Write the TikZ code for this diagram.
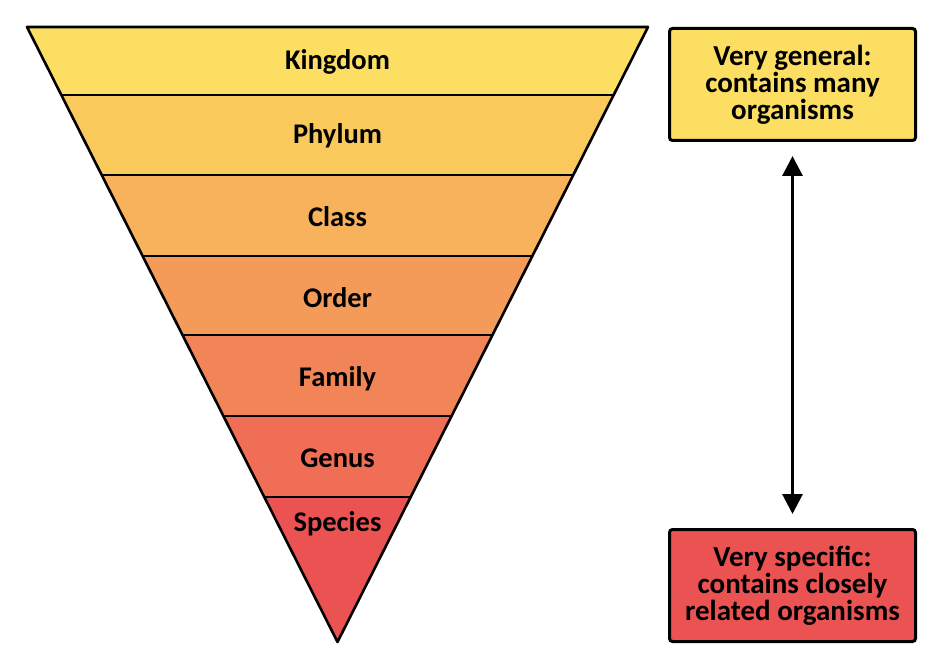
\documentclass[tikz,border=0pt]{standalone}
\usepackage{fontspec}
\setmainfont{Carlito}
\usetikzlibrary{calc,arrows.meta}
\definecolor{cK}{RGB}{252,222,99}
\definecolor{cP}{RGB}{249,201,92}
\definecolor{cC}{RGB}{247,178,91}
\definecolor{cO}{RGB}{245,155,90}
\definecolor{cF}{RGB}{242,133,88}
\definecolor{cG}{RGB}{239,110,85}
\definecolor{cS}{RGB}{235,83,82}
\tikzset{
  lbl/.style={font=\fontsize{28.5}{28}\selectfont\bfseries, text=black, inner sep=0pt},
  infobox/.style={draw=black, line width=3pt, rounded corners=3pt, minimum width=246pt, minimum height=112pt, align=center, font=\fontsize{29}{27}\selectfont\bfseries, inner sep=0pt},
  edge/.style={line width=2.6pt, line join=round}
}
\begin{document}
\begin{tikzpicture}[x=1pt,y=-1pt]
\useasboundingbox (0,0) rectangle (945,671);
\coordinate (TL) at (27,27);
\coordinate (TR) at (648,27);
\coordinate (A) at (337.5,642);
% band boundary points
\foreach \n/\t in {1/0.1106,2/0.2407,3/0.3724,4/0.5008,5/0.6325,6/0.7642}{
  \coordinate (L\n) at ($(TL)!\t!(A)$);
  \coordinate (R\n) at ($(TR)!\t!(A)$);
}
\fill[cK] (TL) -- (TR) -- (R1) -- (L1) -- cycle;
\fill[cP] (L1) -- (R1) -- (R2) -- (L2) -- cycle;
\fill[cC] (L2) -- (R2) -- (R3) -- (L3) -- cycle;
\fill[cO] (L3) -- (R3) -- (R4) -- (L4) -- cycle;
\fill[cF] (L4) -- (R4) -- (R5) -- (L5) -- cycle;
\fill[cG] (L5) -- (R5) -- (R6) -- (L6) -- cycle;
\fill[cS] (L6) -- (R6) -- (A) -- cycle;
\foreach \n in {1,...,6}{\draw[edge] (L\n) -- (R\n);}
\draw[edge] (TL) -- (TR) -- (A) -- cycle;
\node[lbl, anchor=base] (kingdom) at (337.5,70) {Kingdom};
\node[lbl, anchor=base] (phylum) at (337.5,144) {Phylum};
\node[lbl, anchor=base] (class) at (337.5,227) {Class};
\node[lbl, anchor=base] (order) at (337.5,307) {Order};
\node[lbl, anchor=base] (family) at (337.5,386) {Family};
\node[lbl, anchor=base] (genus) at (337.5,467) {Genus};
\node[lbl, anchor=base] (species) at (337.5,531) {Species};
\node[infobox, fill=cK] (gen) at (792.5,84.5) {Very general:\\contains many\\organisms};
\node[infobox, fill=cS] (spec) at (792.5,585.5) {\raisebox{-2pt}{\parbox{240pt}{\centering Very specific:\\contains closely\\related organisms}}};
\draw[line width=3pt, {Triangle[width=20pt,length=20pt]}-{Triangle[width=20pt,length=20pt]}, shorten <=14pt, shorten >=14pt] (gen.south) -- (spec.north);
\end{tikzpicture}
\end{document}
